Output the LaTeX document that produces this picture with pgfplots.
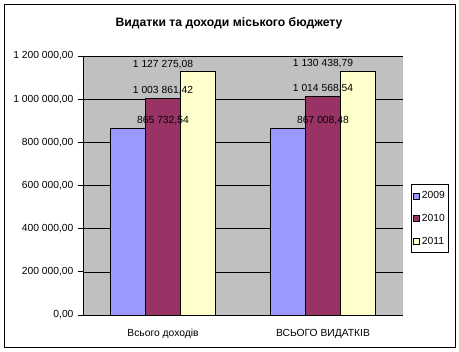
\documentclass[border=0pt]{standalone}
\usepackage{fontspec}
\setmainfont{Liberation Sans}
\usepackage{pgfplots}
\pgfplotsset{compat=1.18}
\definecolor{c09}{HTML}{9999FF}
\definecolor{c10}{HTML}{993366}
\definecolor{c11}{HTML}{FFFFCC}
\definecolor{pa}{HTML}{C0C0C0}
\begin{document}
\begin{tikzpicture}[x=1pt,y=1pt]
\path[use as bounding box] (0,0) rectangle (459,352);
\draw[black,line width=1pt] (4.5,4.5) rectangle (455,347.5);
\node[font=\fontsize{12.2}{14}\selectfont\bfseries] at (229,329) {Видатки та доходи міського бюджету};
\begin{axis}[
  at={(83pt,37pt)}, anchor=south west,
  width=320pt, height=259pt, scale only axis,
  xmin=-0.5, xmax=1.5, ymin=0, ymax=1200000,
  scaled y ticks=false,
  axis background/.style={fill=pa},
  axis x line*=bottom, axis y line*=left,
  axis line style={black,line width=0.7pt,-},
  ybar=0pt, bar width=35pt,
  xtick={0,1}, xticklabels={Всього доходів,ВСЬОГО ВИДАТКІВ},
  x tick label style={yshift=-6pt},
  major x tick style={draw=none},
  extra x ticks={-0.5,0.5,1.5}, extra x tick labels={},
  extra x tick style={tick style={black,line width=0.7pt}, major tick length=5pt, tick pos=left, tick align=outside, grid=none},
  ytick={0,200000,400000,600000,800000,1000000,1200000},
  yticklabels={{0,00},{200 000,00},{400 000,00},{600 000,00},{800 000,00},{1 000 000,00},{1 200 000,00}},
  ymajorgrids, grid style={black,line width=0.6pt},
  tick align=outside, major tick length=5pt,
  y tick style={black,line width=0.7pt},
  tick label style={font=\fontsize{10.3}{12}\selectfont},
  yticklabel style={xshift=-1pt},
  nodes near coords, point meta=explicit symbolic,
  every node near coord/.style={font=\fontsize{10.3}{12}\selectfont, black, inner sep=2pt, yshift=1pt},
  legend style={at={(1,0.5)}, anchor=west, xshift=8pt, yshift=-33pt,
    draw=black, fill=white, line width=0.7pt, font=\fontsize{10.3}{12}\selectfont,
    row sep=10pt, inner xsep=2pt, inner ysep=5pt, cells={anchor=west}},
  legend image code/.code={\draw[#1,line width=0.5pt,draw=black] (0pt,-3pt) rectangle (6pt,3pt);},
  clip=false,
]
\addplot[fill=c09, draw=black, line width=0.6pt] coordinates {(0,865732.54) [865 732,54] (1,867008.48) [867 008,48]};
\addplot[fill=c10, draw=black, line width=0.6pt] coordinates {(0,1003861.42) [1 003 861,42] (1,1014568.54) [1 014 568,54]};
\addplot[fill=c11, draw=black, line width=0.6pt] coordinates {(0,1127275.08) [1 127 275,08] (1,1130438.79) [1 130 438,79]};
\legend{2009,2010,2011}
\end{axis}
\end{tikzpicture}
\end{document}
